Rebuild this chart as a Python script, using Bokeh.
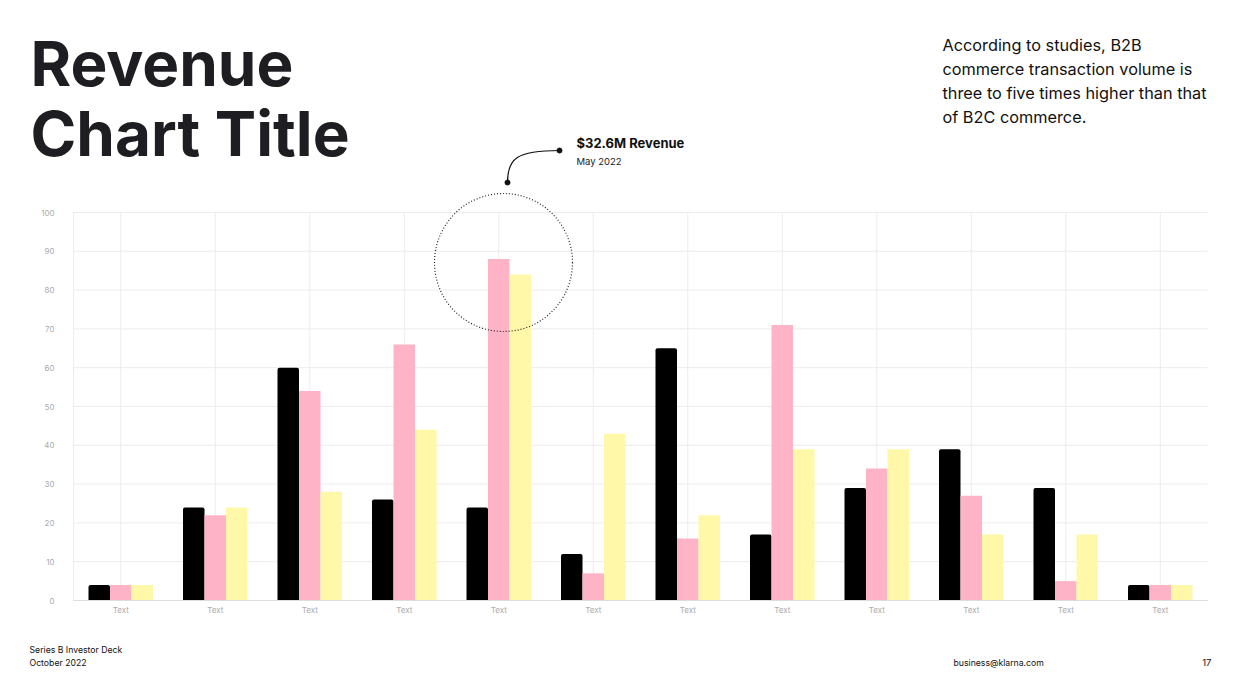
from bokeh.plotting import figure
from bokeh.models import Range1d, LinearAxis, FixedTicker, CustomJSTickFormatter
from bokeh.core.properties import value
from bokeh.embed import file_html
from bokeh.resources import INLINE

# ---- data ----
categories = ["Text"] * 12
series_black = [4, 24, 60, 26, 24, 12, 65, 17, 29, 39, 29, 4]
series_pink = [4, 22, 54, 66, 88, 7, 16, 71, 34, 27, 5, 4]
series_yellow = [4, 24, 28, 44, 84, 43, 22, 39, 39, 17, 17, 4]
y_ticks = [0, 10, 20, 30, 40, 50, 60, 70, 80, 90, 100]

title_lines = ["Revenue", "Chart Title"]
side_lines = ["According to studies, B2B",
              "commerce transaction volume is",
              "three to five times higher than that",
              "of B2C commerce."]
callout_title = "$32.6M Revenue"
callout_sub = "May 2022"
footer_left = ["Series B Investor Deck", "October 2022"]
footer_mid = "business@klarna.com"
page_no = "17"

# ---- layout ----
W, H = 1240, 700
left_px, right_px, top_px, bottom_px = 73, 1207, 212, 600
n = len(categories)
cw = (right_px - left_px) / n
k = (bottom_px - top_px) / 100.0

FONT_NAME = "Inter"
FONT = value(FONT_NAME)

p = figure(width=W, height=H,
           x_range=Range1d(-left_px / cw, n + (W - right_px) / cw),
           y_range=Range1d(-(H - bottom_px) / k, bottom_px / k),
           x_axis_type=None, y_axis_type=None, min_border=0,
           toolbar_location=None, output_backend="svg")
p.outline_line_color = None
p.background_fill_color = "white"
p.border_fill_color = "white"
p.extra_x_ranges = {"px": Range1d(0, W)}
p.extra_y_ranges = {"py": Range1d(H, 0)}

# grid lines
p.segment(x0=[0] * len(y_ticks), x1=[n] * len(y_ticks), y0=y_ticks, y1=y_ticks,
          line_color="#ececec", line_width=1)
vx = [0] + [i + 0.5 for i in range(n)]
p.segment(x0=vx, x1=vx, y0=[0] * len(vx), y1=[y_ticks[-1]] * len(vx),
          line_color="#ececec", line_width=1)

# bars
bw = 0.2275
centers = [i + 0.5 for i in range(n)]
p.vbar(x=[c - bw for c in centers], top=series_black, width=bw,
       fill_color="#000000", line_color=None, border_radius=[2, 2, 0, 0])
p.vbar(x=centers, top=series_pink, width=bw, fill_color="#FFB3C7", line_color=None)
p.vbar(x=[c + bw for c in centers], top=series_yellow, width=bw,
       fill_color="#FFF8A8", line_color=None)

# axes
yaxis = LinearAxis(fixed_location=0, bounds=(0, 100), ticker=FixedTicker(ticks=y_ticks),
                   axis_line_color=None, major_tick_line_color=None,
                   minor_tick_line_color=None, major_tick_out=0, major_tick_in=0,
                   major_label_standoff=19, major_label_text_font_size="8px",
                   major_label_text_color="#ababab", major_label_text_font=FONT_NAME)
p.add_layout(yaxis, "left")

xaxis = LinearAxis(fixed_location=0, bounds=(0, n), ticker=FixedTicker(ticks=centers),
                   formatter=CustomJSTickFormatter(args=dict(labels=categories),
                                                   code="return labels[Math.floor(tick)]"),
                   axis_line_color="#dddddd", axis_line_width=1,
                   major_tick_line_color=None, minor_tick_line_color=None,
                   major_tick_out=0, major_tick_in=0, major_label_standoff=4,
                   major_label_text_font_size="8px", major_label_text_color="#ababab",
                   major_label_text_font=FONT_NAME)
p.add_layout(xaxis, "below")

# callout circle + connector
p.circle(x=[503], y=[262], radius=69, fill_color=None, line_color="#222222",
         line_width=1.2, line_dash="1 2", x_range_name="px", y_range_name="py")
p.bezier(x0=[559], y0=[150], x1=[507], y1=[182], cx0=[516], cy0=[150], cx1=[507], cy1=[158],
         line_color="#111111", line_width=1.2, x_range_name="px", y_range_name="py")
p.scatter(x=[559, 507], y=[150, 182], size=5, color="#111111",
          x_range_name="px", y_range_name="py")

def txt(x, baselines, t, size, color="#1b1b1f", bold=False, align="left"):
    # compensate the renderer's baseline offset (~0.38 em)
    y = [b - 0.38 * size for b in baselines]
    p.text(x=x, y=y, text=t, x_range_name="px", y_range_name="py",
           text_font=FONT, text_font_size=f"{size}px",
           text_font_style="bold" if bold else "normal",
           text_color=color, text_align=align, text_baseline="alphabetic")

txt([30, 30], [87, 157], title_lines, 62, color="#1e1e22", bold=True)
txt([942] * 4, [51, 75, 99, 123], side_lines, 16.3, color="#111111")
txt([576], [147], [callout_title], 13, color="#111111", bold=True)
txt([576], [165], [callout_sub], 9.5, color="#222222")
txt([29, 29], [653, 666], footer_left, 8.7, color="#111111")
txt([953], [666], [footer_mid], 8.7, color="#111111")
txt([1211], [666], [page_no], 9.5, color="#111111", align="right")

open("out.html", "w").write(file_html(p, INLINE))
